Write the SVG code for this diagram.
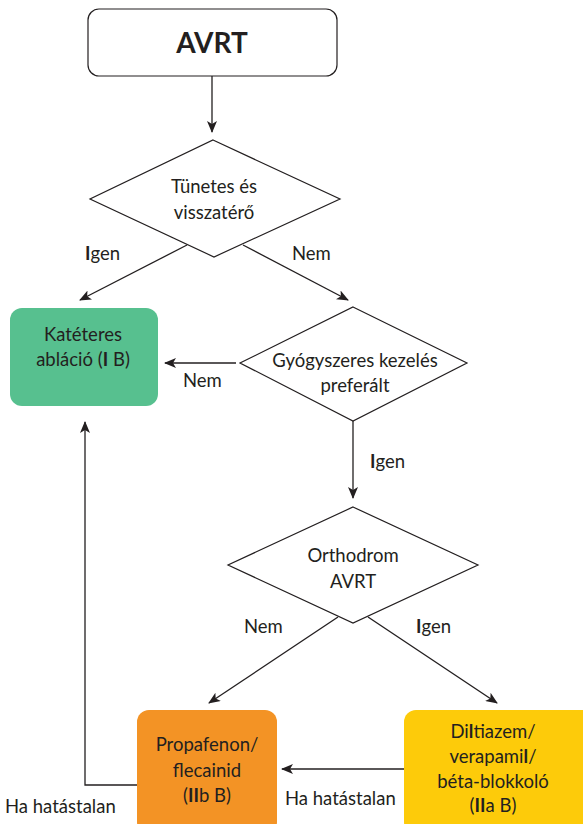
<svg xmlns="http://www.w3.org/2000/svg" width="583" height="824" viewBox="0 0 583 824">
  <style>
    .lbl { font-family: Lato, "Open Sans", "Liberation Sans", sans-serif; font-size: 18.5px; fill: #231f20; text-anchor: middle; }
    .edge-lbl { font-family: Lato, "Open Sans", "Liberation Sans", sans-serif; font-size: 18.5px; fill: #231f20; }
    .title { font-family: Lato, "Liberation Sans", sans-serif; font-size: 28px; font-weight: bold; fill: #231f20; text-anchor: middle; }
    .shape { fill: #ffffff; stroke: #231f20; stroke-width: 1.2; }
    .conn { fill: none; stroke: #231f20; stroke-width: 1.3; marker-end: url(#arrow); }
    .b { font-weight: bold; }
  </style>
  <defs>
    <marker id="arrow" viewBox="0 0 12 10" refX="11" refY="5" markerWidth="12" markerHeight="10" markerUnits="userSpaceOnUse" orient="auto">
      <path d="M0,0 L12,5 L0,10 L3,5 z" fill="#231f20"/>
    </marker>
  </defs>

  <!-- connectors -->
  <g id="connectors">
    <line class="conn" x1="212" y1="76" x2="212" y2="132"/>
    <line class="conn" x1="187" y1="245" x2="80" y2="300"/>
    <line class="conn" x1="243" y1="245" x2="348" y2="300"/>
    <line class="conn" x1="236" y1="363" x2="165" y2="363"/>
    <line class="conn" x1="353" y1="421" x2="353" y2="498"/>
    <line class="conn" x1="338" y1="617" x2="209" y2="703"/>
    <line class="conn" x1="368" y1="617" x2="497" y2="703"/>
    <line class="conn" x1="404" y1="769" x2="282" y2="769"/>
    <polyline class="conn" points="137,785 85,785 85,422"/>
    <text class="edge-lbl" x="85" y="260"><tspan class="b">I</tspan>gen</text>
    <text class="edge-lbl" x="292" y="260">Nem</text>
    <text class="edge-lbl" x="183" y="387">Nem</text>
    <text class="edge-lbl" x="370" y="468"><tspan class="b">I</tspan>gen</text>
    <text class="edge-lbl" x="244" y="633">Nem</text>
    <text class="edge-lbl" x="416" y="633"><tspan class="b">I</tspan>gen</text>
    <text class="edge-lbl" x="285" y="805">Ha hatástalan</text>
    <text class="edge-lbl" x="5" y="813">Ha hatástalan</text>
  </g>

  <g id="start">
    <rect class="shape" x="88" y="9" width="249" height="67" rx="11"/>
    <text class="title" x="212" y="53">AVRT</text>
  </g>

  <g id="decision-symptoms">
    <polygon class="shape" points="213,140 340,199 214,257 90,199"/>
    <text class="lbl" x="214" y="193">Tünetes és</text>
    <text class="lbl" x="214" y="219">visszatérő</text>
  </g>

  <g id="ablation">
    <rect x="10" y="308" width="148" height="98" rx="12" fill="#57c08f"/>
    <text class="lbl" x="83" y="341">Katéteres</text>
    <text class="lbl" x="83" y="366">abláció (<tspan class="b">I</tspan> B)</text>
  </g>

  <g id="decision-drug">
    <polygon class="shape" points="353,307 467,363 353,421 240,363"/>
    <text class="lbl" x="355" y="367">Gyógyszeres kezelés</text>
    <text class="lbl" x="355" y="392">preferált</text>
  </g>

  <g id="decision-orthodromic">
    <polygon class="shape" points="353,507 478,565 353,623 228,565"/>
    <text class="lbl" x="353" y="562">Orthodrom</text>
    <text class="lbl" x="353" y="588">AVRT</text>
  </g>

  <g id="propafenone">
    <rect x="137" y="710" width="140" height="124" rx="12" fill="#f39325"/>
    <text class="lbl" x="207" y="751">Propafenon/</text>
    <text class="lbl" x="207" y="777">flecainid</text>
    <text class="lbl" x="207" y="802">(<tspan class="b">II</tspan>b B)</text>
  </g>

  <g id="diltiazem">
    <rect x="404" y="710" width="190" height="124" rx="12" fill="#fdcb0a"/>
    <text class="lbl" x="493" y="738">Di<tspan class="b">l</tspan>tiazem/</text>
    <text class="lbl" x="493" y="763">verapami<tspan class="b">l</tspan>/</text>
    <text class="lbl" x="493" y="788">béta-blokkoló</text>
    <text class="lbl" x="493" y="812">(<tspan class="b">II</tspan>a B)</text>
  </g>
</svg>
